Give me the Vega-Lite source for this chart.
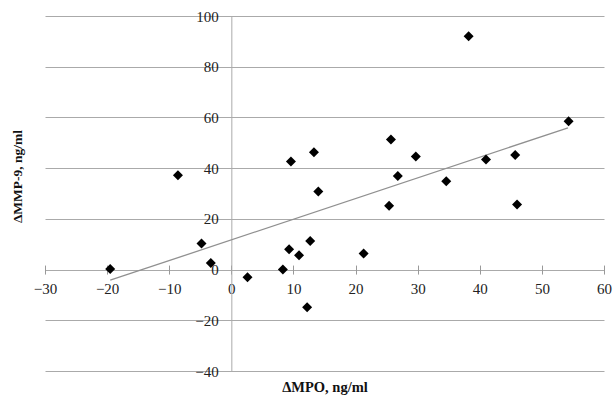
{
  "$schema": "https://vega.github.io/schema/vega-lite/v6.json",
  "width": 559,
  "height": 355,
  "autosize": {"type": "none"},
  "padding": {"left": 45, "top": 16, "right": 10, "bottom": 26},
  "background": "white",
  "config": {
    "view": {"stroke": null},
    "axis": {"labelFont": "Liberation Serif", "titleFont": "Liberation Serif", "labelColor": "#222", "titleColor": "#111"}
  },
  "datasets": {
    "pts": [
      {"mpo": 38.2, "mmp9": 92.0},
      {"mpo": 54.3, "mmp9": 58.5},
      {"mpo": -8.6, "mmp9": 37.2},
      {"mpo": 9.6, "mmp9": 42.6},
      {"mpo": 13.3, "mmp9": 46.3},
      {"mpo": 25.7, "mmp9": 51.3},
      {"mpo": 29.7, "mmp9": 44.6},
      {"mpo": 26.8, "mmp9": 36.9},
      {"mpo": 34.6, "mmp9": 34.8},
      {"mpo": 41.0, "mmp9": 43.4},
      {"mpo": 45.7, "mmp9": 45.2},
      {"mpo": 14.0, "mmp9": 30.8},
      {"mpo": 25.4, "mmp9": 25.2},
      {"mpo": 46.0, "mmp9": 25.7},
      {"mpo": -19.5, "mmp9": 0.2},
      {"mpo": -4.8, "mmp9": 10.3},
      {"mpo": -3.3, "mmp9": 2.6},
      {"mpo": 2.6, "mmp9": -3.0},
      {"mpo": 8.3, "mmp9": 0.0},
      {"mpo": 9.3, "mmp9": 8.0},
      {"mpo": 10.9, "mmp9": 5.6},
      {"mpo": 12.7, "mmp9": 11.3},
      {"mpo": 21.3, "mmp9": 6.3},
      {"mpo": 12.2, "mmp9": -14.9}
    ],
    "trend": [
      {"mpo": -19.5, "mmp9": -4.2},
      {"mpo": 54.2, "mmp9": 55.9}
    ]
  },
  "layer": [
    {
      "data": {"name": "trend"},
      "mark": {"type": "line", "color": "#909090", "strokeWidth": 1.3},
      "encoding": {
        "x": {"field": "mpo", "type": "quantitative",
          "scale": {"domain": [-30, 60], "nice": false, "zero": false},
          "axis": {"orient": "bottom", "title": "ΔMPO, ng/ml", "titleFontSize": 14.5, "titleFontWeight": "bold", "titlePadding": 9, "labels": false, "ticks": false, "domain": false, "grid": false}},
        "y": {"field": "mmp9", "type": "quantitative",
          "scale": {"domain": [-40, 100], "nice": false, "zero": false},
          "axis": {"orient": "left", "title": "ΔMMP-9, ng/ml", "titleFontSize": 13.5, "titleFontWeight": "bold", "titlePadding": 21, "titleY": 160, "labels": false, "ticks": false, "domain": false, "grid": false}}
      }
    },
    {
      "data": {"name": "pts"},
      "mark": {"type": "point", "shape": "diamond", "filled": true, "color": "#000", "size": 100, "opacity": 1},
      "encoding": {
        "x": {"field": "mpo", "type": "quantitative",
          "axis": {"orient": "bottom", "title": null, "values": [-30, -20, -10, 0, 10, 20, 30, 40, 50, 60],
            "offset": {"expr": "scale('y', 0) - height - 4.5"}, "tickSize": 9, "tickColor": "#999", "domain": false, "grid": false,
            "labelFontSize": 15, "labelPadding": 7, "labelFlush": false}},
        "y": {"field": "mmp9", "type": "quantitative",
          "axis": {"orient": "left", "title": null, "values": [-40, -20, 0, 20, 40, 60, 80, 100],
            "offset": {"expr": "-scale('x', 0)"}, "tickSize": 0, "domain": true, "domainColor": "#aaa", "grid": true, "gridColor": "#aaa",
            "labelFontSize": 15, "labelPadding": 13, "labelFlush": false}}
      }
    }
  ],
  "resolve": {"axis": {"x": "independent", "y": "independent"}}
}
